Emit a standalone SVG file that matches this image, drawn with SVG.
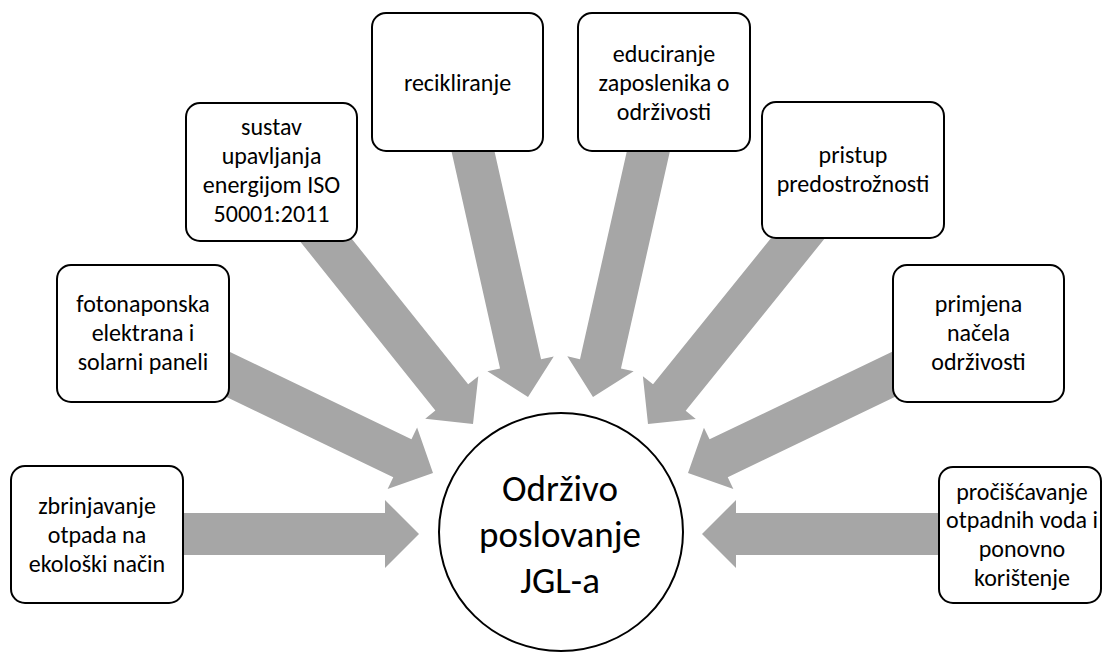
<svg xmlns="http://www.w3.org/2000/svg" width="1102" height="652" viewBox="0 0 1102 652">
<style>
.box{fill:#ffffff;stroke:#000000;stroke-width:2}
.t{font-family:Carlito,Lato,"Liberation Sans",sans-serif;font-size:24px;fill:#000000;text-anchor:middle}
.c{font-family:Carlito,Lato,"Liberation Sans",sans-serif;font-size:37px;fill:#000000;text-anchor:middle}
.arr{fill:#A6A6A6}
</style>
<defs>
<polygon id="a" points="-322,-21 -34,-21 -34,-34 0,0 -34,34 -34,21 -322,21"/>
</defs>
<rect width="1102" height="652" fill="#ffffff"/>
<g id="connectors" class="arr">
<use href="#a" transform="translate(419,534) rotate(0)"/>
<use href="#a" transform="translate(433,473) rotate(25.69)"/>
<use href="#a" transform="translate(473,424) rotate(51.35)"/>
<use href="#a" transform="translate(528,397) rotate(77.38)"/>
<use href="#a" transform="translate(593,397) rotate(102.7)"/>
<use href="#a" transform="translate(648,424) rotate(128.9)"/>
<use href="#a" transform="translate(688,473) rotate(154.35)"/>
<use href="#a" transform="translate(702,534) rotate(180)"/>
</g>
<g id="n1">
<rect class="box" x="11" y="466" width="172" height="137" rx="14"/>
<text class="t"><tspan x="97" y="514">zbrinjavanje</tspan><tspan x="97" y="543">otpada na</tspan><tspan x="97" y="572">ekološki način</tspan></text>
</g>
<g id="n2">
<rect class="box" x="57" y="265" width="172" height="137" rx="14"/>
<text class="t"><tspan x="143" y="312">fotonaponska</tspan><tspan x="143" y="341">elektrana i</tspan><tspan x="143" y="370">solarni paneli</tspan></text>
</g>
<g id="n3">
<rect class="box" x="186" y="103" width="171" height="138" rx="14"/>
<text class="t"><tspan x="271.5" y="135">sustav</tspan><tspan x="271.5" y="164">upavljanja</tspan><tspan x="271.5" y="193">energijom ISO</tspan><tspan x="271.5" y="222">50001:2011</tspan></text>
</g>
<g id="n4">
<rect class="box" x="372" y="13" width="171" height="138" rx="14"/>
<text class="t"><tspan x="457.5" y="91">recikliranje</tspan></text>
</g>
<g id="n5">
<rect class="box" x="578" y="13" width="172" height="138" rx="14"/>
<text class="t"><tspan x="664" y="62">educiranje</tspan><tspan x="664" y="91">zaposlenika o</tspan><tspan x="664" y="120">održivosti</tspan></text>
</g>
<g id="n6">
<rect class="box" x="762" y="102" width="182" height="136" rx="14"/>
<text class="t"><tspan x="853" y="163">pristup</tspan><tspan x="853" y="192">predostrožnosti</tspan></text>
</g>
<g id="n7">
<rect class="box" x="893" y="265" width="171" height="137" rx="14"/>
<text class="t"><tspan x="978.5" y="312">primjena</tspan><tspan x="978.5" y="341">načela</tspan><tspan x="978.5" y="370">održivosti</tspan></text>
</g>
<g id="n8">
<rect class="box" x="939" y="467" width="162" height="136" rx="14"/>
<text class="t"><tspan x="1022" y="500">pročišćavanje</tspan><tspan x="1022" y="528">otpadnih voda i</tspan><tspan x="1022" y="557">ponovno</tspan><tspan x="1022" y="586">korištenje</tspan></text>
</g>
<g id="center">
<ellipse cx="561" cy="532" rx="122" ry="119" fill="#ffffff" stroke="#000000" stroke-width="2"/>
<text class="c"><tspan x="560" y="501">Održivo</tspan><tspan x="560" y="547">poslovanje</tspan><tspan x="560" y="593">JGL-a</tspan></text>
</g>
</svg>
